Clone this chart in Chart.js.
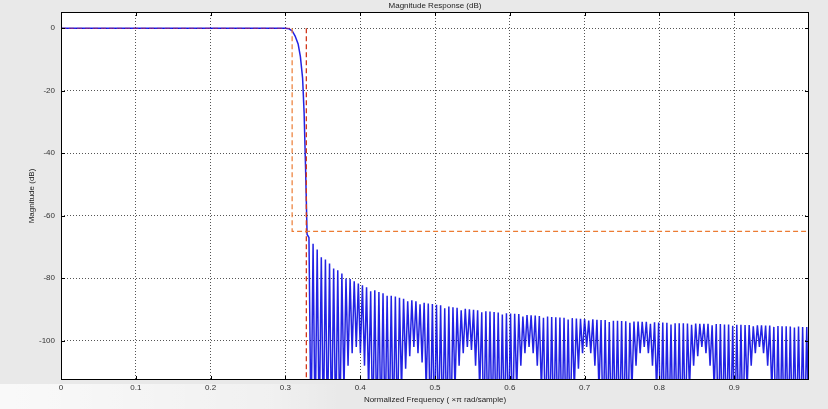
<!DOCTYPE html>
<html>
<head>
<meta charset="utf-8">
<title>Magnitude Response (dB)</title>
<script src="https://cdn.jsdelivr.net/npm/chart.js"></script>
<style>
  html, body { margin: 0; padding: 0; background: #e9e9e9; }
  #wrap { position: relative; width: 828px; height: 409px; }
</style>
</head>
<body>
<div id="wrap"><canvas id="magChart"></canvas></div>
<script>
// Passband + transition band (normalized frequency x pi, dB)
const passFreq = [0, 0.05, 0.1, 0.15, 0.2, 0.25, 0.3, 0.305, 0.309, 0.313, 0.317, 0.320, 0.323, 0.325, 0.327, 0.329];
const passDb   = [0, 0, 0, 0, 0, 0, 0, -0.2, -0.8, -2.5, -5, -9, -16, -27, -45, -66];

// Stopband: one peak + one null per sidelobe, lobes evenly spaced
const lobeStart = 0.3315;
const lobeStep = 0.0055;
const lobePeakDb = [
  -67, -69, -70.8, -73.3, -74, -75.3, -76.9, -77.5, -78.5, -80.1,
  -80.3, -81, -81.7, -82.3, -82.9, -84.2, -83.9, -84.4, -84.8, -85.6,
  -85.6, -85.9, -86.3, -86.6, -87.4, -87.1, -87.4, -88.4, -87.9, -88.1,
  -88.3, -88.5, -88.7, -89.6, -89.1, -89.3, -89.5, -90.3, -89.8, -90,
  -90.1, -90.3, -90.9, -90.6, -90.7, -90.8, -91, -91.6, -91.2, -91.3,
  -91.4, -91.5, -92.3, -91.8, -91.9, -92, -92.1, -92.7, -92.3, -92.4,
  -92.5, -92.6, -92.7, -93.2, -92.8, -92.9, -93, -93.1, -93.6, -93.2,
  -93.3, -93.4, -93.4, -94, -93.6, -93.6, -93.7, -93.8, -94.3, -93.9,
  -93.9, -94, -94, -94.6, -94.1, -94.2, -94.2, -94.3, -94.8, -94.4,
  -94.4, -94.4, -94.5, -94.9, -94.5, -94.6, -94.6, -94.6, -95.1, -94.7,
  -94.7, -94.8, -94.8, -95.2, -94.9, -94.9, -95, -95, -95.4, -95.1,
  -95.1, -95.2, -95.2, -95.6, -95.3, -95.4, -95.4, -95.5, -95.8, -95.5,
  -95.6, -95.6
];
const lobeNullDb = [
  -130, -130, -130, -130, -130, -130, -130, -130,
  -116, -108, -104, -102, -104, -108, -116,
  -130, -130, -130, -130, -130, -130, -130,
  -116, -109, -105, -102, -104, -107, -116,
  -130, -130, -130, -130, -130, -130,
  -116, -108, -104, -102, -103, -108, -116,
  -130, -130, -130, -130, -130, -130, -130, -130,
  -116, -108, -104, -102, -104, -108, -116,
  -130, -130, -130, -130, -130, -130, -130,
  -116, -109, -104, -102, -104, -108, -116,
  -130, -130, -130, -130, -130, -130, -130,
  -116, -108, -104, -102, -104, -108, -116,
  -130, -130, -130, -130, -130, -130, -130,
  -116, -108, -105, -102, -104, -108, -116,
  -130, -130, -130, -130, -130, -130, -130,
  -116, -108, -104, -102, -104, -108, -116,
  -130, -130, -130, -130, -130, -130, -130, -130, -130
];

// Spec mask
const fPass = 0.309;
const fStop = 0.328;
const aStop = -65;

const xMin = 0, xMax = 1.0;
const yMin = -112.6, yMax = 5.2;
const xTicks = [0, 0.1, 0.2, 0.3, 0.4, 0.5, 0.6, 0.7, 0.8, 0.9];
const xTickLabels = ['0', '0.1', '0.2', '0.3', '0.4', '0.5', '0.6', '0.7', '0.8', '0.9'];
const yTicks = [0, -20, -40, -60, -80, -100];
const yTickLabels = ['0', '-20', '-40', '-60', '-80', '-100'];

const response = passFreq.map((f, i) => ({ x: f, y: passDb[i] }));
lobePeakDb.forEach((p, i) => {
  const f = lobeStart + i * lobeStep;
  response.push({ x: f, y: p });
  response.push({ x: f + lobeStep / 2, y: lobeNullDb[i] });
});

const font = { family: 'Liberation Sans, Arial, sans-serif', size: 8 };

// grey figure, white axes, black box with inward ticks
const axesBox = {
  id: 'axesBox',
  beforeDraw(chart) {
    const { ctx, chartArea: a } = chart;
    ctx.save();
    ctx.fillStyle = '#e9e9e9';
    ctx.fillRect(0, 0, chart.width, chart.height);
    // light glare at the lower left of the figure
    const g = ctx.createLinearGradient(0, 0, 340, 0);
    g.addColorStop(0, 'rgba(255,255,255,0.75)');
    g.addColorStop(0.8, 'rgba(255,255,255,0.35)');
    g.addColorStop(1, 'rgba(255,255,255,0)');
    ctx.fillStyle = g;
    ctx.fillRect(0, a.bottom + 4, 340, chart.height - a.bottom - 4);
    ctx.fillStyle = '#ffffff';
    ctx.fillRect(a.left, a.top, a.right - a.left, a.bottom - a.top);
    ctx.restore();
  },
  afterDraw(chart) {
    const { ctx, chartArea: a, scales } = chart;
    ctx.save();
    ctx.strokeStyle = '#000';
    ctx.lineWidth = 1;
    ctx.strokeRect(a.left + 0.5, a.top + 0.5, a.right - a.left - 1, a.bottom - a.top - 1);
    ctx.beginPath();
    xTicks.forEach(v => {
      const px = Math.round(scales.x.getPixelForValue(v)) + 0.5;
      ctx.moveTo(px, a.top); ctx.lineTo(px, a.top + 4);
      ctx.moveTo(px, a.bottom); ctx.lineTo(px, a.bottom - 4);
    });
    yTicks.forEach(v => {
      const py = Math.round(scales.y.getPixelForValue(v)) + 0.5;
      ctx.moveTo(a.left, py); ctx.lineTo(a.left + 4, py);
      ctx.moveTo(a.right, py); ctx.lineTo(a.right - 4, py);
    });
    ctx.stroke();
    ctx.restore();
  }
};

new Chart(document.getElementById('magChart'), {
  type: 'line',
  data: {
    datasets: [
      { data: response, borderColor: 'rgba(10, 10, 225, 0.9)', borderWidth: 1.5, order: 1 },
      { data: [{ x: 0, y: 0 }, { x: fPass, y: 0 }], borderColor: 'rgba(215, 40, 60, 0.6)', borderWidth: 1.2, borderDash: [5, 3], order: 0 },
      { data: [{ x: fPass, y: 0 }, { x: fPass, y: aStop }, { x: xMax, y: aStop }], borderColor: '#ec7c34', borderWidth: 1.2, borderDash: [5, 3], order: 0 },
      { data: [{ x: fStop, y: 0 }, { x: fStop, y: yMin }], borderColor: '#d2381c', borderWidth: 1.3, borderDash: [5, 3], order: 0 }
    ]
  },
  options: {
    responsive: true,
    maintainAspectRatio: false,
    animation: false,
    layout: { padding: { left: 0, right: 19, top: 0, bottom: 0 } },
    elements: { point: { radius: 0 }, line: { tension: 0 } },
    plugins: {
      legend: { display: false },
      tooltip: { enabled: false },
      title: {
        display: true,
        fullSize: false,
        text: 'Magnitude Response (dB)',
        color: '#222',
        font: { ...font, weight: 'normal' },
        padding: { top: 1, bottom: 1.4 }
      }
    },
    scales: {
      x: {
        type: 'linear',
        min: xMin,
        max: xMax,
        afterFit: s => { s.height = 29; },
        afterBuildTicks: s => { s.ticks = xTicks.map(v => ({ value: v })); },
        border: { display: false, dash: [1, 2] },
        grid: { color: '#555', drawTicks: false, lineWidth: 1 },
        ticks: { color: '#333', font, padding: 3, maxRotation: 0, autoSkip: false, callback: (v, i) => xTickLabels[i] },
        title: { display: true, text: 'Normalized Frequency ( ×π rad/sample)', color: '#222', font, padding: { top: 0, bottom: 4 } }
      },
      y: {
        min: yMin,
        max: yMax,
        afterFit: s => { s.width = 61; },
        afterBuildTicks: s => { s.ticks = yTicks.map(v => ({ value: v })); },
        border: { display: false, dash: [1, 2] },
        grid: { color: '#555', drawTicks: false, lineWidth: 1 },
        ticks: { color: '#333', font, padding: 6, autoSkip: false, callback: (v, i) => yTickLabels[i] },
        title: { display: true, text: 'Magnitude (dB)', color: '#222', font, padding: { top: 27, bottom: 0 } }
      }
    }
  },
  plugins: [axesBox]
});
</script>
</body>
</html>
